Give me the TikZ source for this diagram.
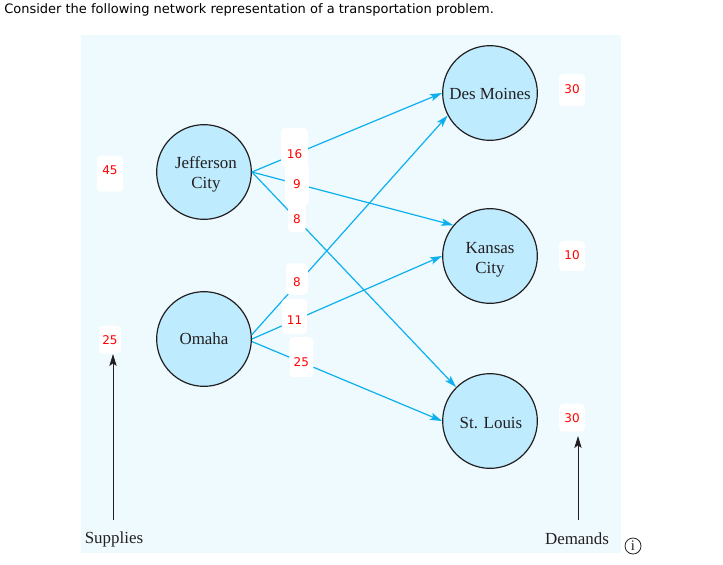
\documentclass[tikz,border=0pt]{standalone}
\usepackage{fontspec}
\setmainfont{Liberation Serif}
\newfontfamily\uifont{DejaVu Sans}
\usetikzlibrary{arrows.meta}
\definecolor{panelblue}{HTML}{EEFAFE}
\definecolor{cityblue}{HTML}{BEEBFD}
\definecolor{flowblue}{HTML}{0DB0EE}
\definecolor{inkdark}{HTML}{231F20}
\tikzset{
  city/.style={circle,draw=inkdark,line width=.9pt,fill=cityblue,minimum size=71pt,inner sep=0pt,
    align=center,text=inkdark,font=\fontsize{12.7}{15}\selectfont},
  caption/.style={text=inkdark,font=\fontsize{12.7}{15}\selectfont,inner ysep=6pt},
  weight/.style n args={3}{fill=white,rounded corners=3pt,inner sep=0pt,anchor=base,yshift=-3.3pt,
    minimum width=#1pt,text height=#2pt,text depth=#3pt,text=red,font=\uifont\fontsize{9}{9}\selectfont},
  pointer/.style={draw=inkdark,line width=.7pt,-{Stealth[length=9pt,width=5.5pt,inset=2pt]}}
}
\begin{document}
\begin{tikzpicture}[x=.75pt,y=-.75pt]
      \useasboundingbox (0,0) rectangle (723,564);

      \fill[panelblue] (81,35) rectangle (621,553);

      \node[anchor=west,inner sep=0pt,text=black,font=\uifont\fontsize{9.75}{12}\selectfont] (title) at (4,10)
        {Consider the following network representation of a transportation problem.};

      \node[city] (jefferson) at (204,172) {\rule{0pt}{12.7pt}\hspace*{3pt}Jefferson\\\hspace*{3pt}City};
      \node[city] (omaha)     at (204,339) {Omaha};
      \node[city] (desmoines) at (490,93)  {\rule{0pt}{9.8pt}Des Moines};
      \node[city] (kansas)    at (490,256) {\rule{0pt}{13.5pt}Kansas\\City};
      \node[city] (stlouis)   at (490,421) {\rule{0pt}{11.3pt}\hspace*{1.5pt}St. Louis};

      \begin{scope}[every edge/.style={draw=flowblue,line width=.9pt,-{Stealth[length=9pt,width=5.5pt,inset=2pt]}}]
        \path (jefferson.east) edge node[pos=.224,weight={20}{23}{6.4}]   (w16) {16} (desmoines.west);
        \path (jefferson.east) edge node[pos=.223,weight={18}{19}{13}]    (w9)  {9}  (kansas.140);
        \path (jefferson.east) edge node[pos=.22,weight={13}{19}{6.5}]    (w8a) {8}  (stlouis.135);
        \path (omaha.5)        edge node[pos=.23,weight={16.5}{17}{6.5},yshift=2pt] (w8b) {8} (desmoines.208);
        \path (omaha.east)     edge node[pos=.224,weight={19}{19.5}{7}]   (w11) {11} (kansas.west);
        \path (omaha.-3)       edge node[pos=.26,weight={18}{22}{8}]      (w25) {25} (stlouis.west);
      \end{scope}

      \node[weight={20}{14}{13}]     (s45) at (110,170) {45};
      \node[weight={16.5}{14}{7}]    (s25) at (110,340) {25};
      \node[weight={19.5}{14.5}{9.5}] (d30a) at (572,89) {30};
      \node[weight={19.5}{14}{8.7}]  (d10) at (572,255) {10};
      \node[weight={19.5}{14}{7}]    (d30b) at (572,418) {30};

      \node[caption] (supplies) at (114,539) {Supplies};
      \node[caption] (demands)  at (577,539) {Demands};
      \coordinate (supplytip) at (113,354);
      \coordinate (supplyend) at (113,520);
      \coordinate (demandtip) at (578,436);
      \coordinate (demandend) at (578,520);
      \draw[pointer] (supplyend) -- (supplytip);
      \draw[pointer] (demandend) -- (demandtip);

      \node[circle,draw=inkdark,line width=.6pt,minimum size=12pt,inner sep=0pt,text=inkdark,
        font=\fontsize{11}{11}\selectfont] (info) at (633,546) {i};

    \end{tikzpicture}
\end{document}
